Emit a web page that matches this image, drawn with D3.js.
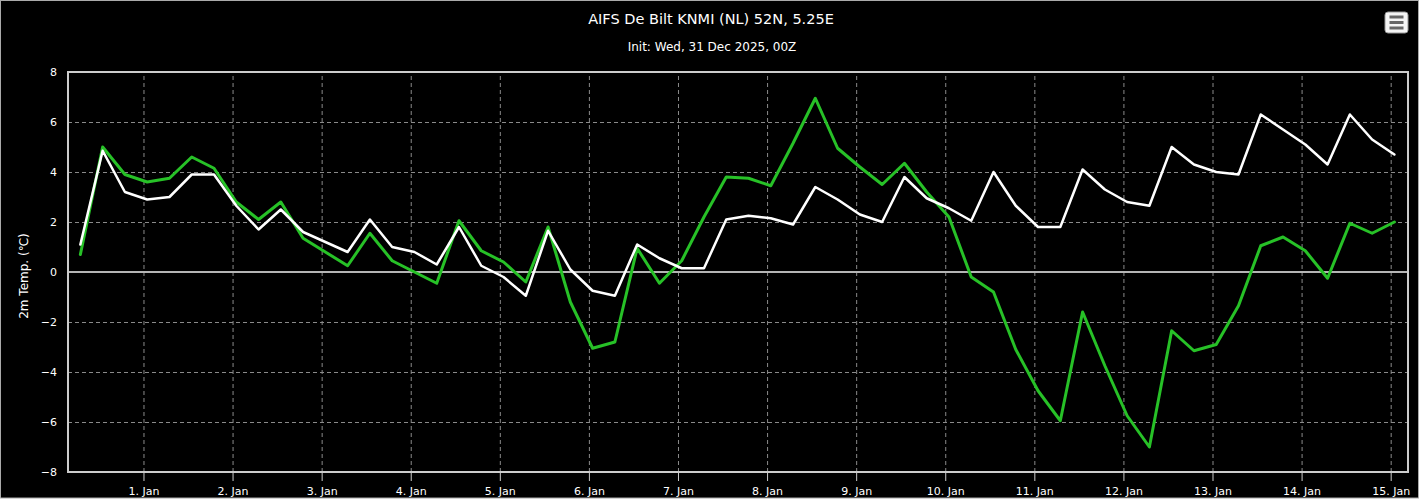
<!DOCTYPE html>
<html>
<head>
<meta charset="utf-8">
<title>AIFS De Bilt</title>
<script src="https://cdn.jsdelivr.net/npm/d3@7"></script>
<style>
  body { margin: 0; background: #fff; }
  svg { display: block; font-family: "DejaVu Sans", Verdana, sans-serif; }
</style>
</head>
<body>
<div id="chart"></div>
<script>
// run info, data is 6-hourly starting 31 Dec 06Z
var runStart = Date.UTC(2025, 11, 31, 6);
var stepHours = 6;

// white line (2m temp, first member)
var whiteTemps = [1.1, 4.85, 3.2, 2.9, 3.0, 3.9, 3.9, 2.65, 1.7, 2.5,
                  1.6, 1.2, 0.8, 2.1, 1.0, 0.8, 0.3, 1.8, 0.25, -0.2,
                  -0.95, 1.65, 0.1, -0.75, -0.95, 1.1, 0.55, 0.15, 0.15, 2.1,
                  2.25, 2.15, 1.9, 3.4, 2.9, 2.3, 2.0, 3.8, 2.95, 2.55,
                  2.05, 4.0, 2.65, 1.8, 1.8, 4.1, 3.3, 2.8, 2.65, 5.0,
                  4.3, 4.0, 3.9, 6.3, 5.7, 5.1, 4.3, 6.3, 5.3, 4.7];

// green line
var greenTemps = [0.7, 5.0, 3.9, 3.6, 3.75, 4.6, 4.15, 2.8, 2.1, 2.8,
                  1.35, 0.8, 0.25, 1.55, 0.45, 0.0, -0.45, 2.05, 0.85, 0.4,
                  -0.4, 1.8, -1.2, -3.05, -2.8, 0.95, -0.45, 0.45, 2.2, 3.8,
                  3.75, 3.45, 5.15, 6.95, 4.95, 4.2, 3.5, 4.35, 3.2, 2.2,
                  -0.2, -0.8, -3.1, -4.75, -5.95, -1.6, -3.75, -5.75, -7.0, -2.35,
                  -3.15, -2.9, -1.35, 1.05, 1.4, 0.85, -0.25, 1.95, 1.55, 2.0];

var dayTicks = [1, 2, 3, 4, 5, 6, 7, 8, 9, 10, 11, 12, 13, 14, 15];
var dayLabels = ["1. Jan", "2. Jan", "3. Jan", "4. Jan", "5. Jan", "6. Jan", "7. Jan", "8. Jan",
                 "9. Jan", "10. Jan", "11. Jan", "12. Jan", "13. Jan", "14. Jan", "15. Jan"];
var yTicks = [-8, -6, -4, -2, 0, 2, 4, 6, 8];

var titleText = "AIFS De Bilt KNMI (NL) 52N, 5.25E";
var subtitleText = "Init: Wed, 31 Dec 2025, 00Z";
var yTitle = "2m Temp. (\u2103)";

var W = 1422, H = 499;
var plot = {left: 68, top: 72, right: 1408, bottom: 472};

var svg = d3.select("#chart").append("svg")
    .attr("width", W).attr("height", H);

// chart box
svg.append("rect")
    .attr("x", 0.5).attr("y", 0.5)
    .attr("width", 1418).attr("height", 497.5)
    .attr("fill", "#000")
    .attr("stroke", "#aaa").attr("stroke-width", 1);

// ticks are at local midnight (CET), i.e. 23Z the day before
var tickTimes = dayTicks.map(function (d) { return new Date(Date.UTC(2026, 0, d, -1)); });
var labelOf = d3.scaleOrdinal().domain(tickTimes.map(Number)).range(dayLabels);

var points = function (arr) {
    return arr.map(function (v, i) {
        return {t: new Date(runStart + i * stepHours * 3600e3), v: v};
    });
};
var whiteData = points(whiteTemps);
var greenData = points(greenTemps);

var x = d3.scaleUtc()
    .domain([new Date(Date.UTC(2025, 11, 31, 2, 40)), new Date(Date.UTC(2026, 0, 15, 3, 40))])
    .range([plot.left, plot.right]);
var y = d3.scaleLinear().domain([-8, 8]).range([plot.bottom, plot.top]);

// grid (dashed)
var gx = svg.append("g")
    .attr("transform", "translate(0," + plot.bottom + ")")
    .call(d3.axisBottom(x).tickValues(tickTimes).tickSize(-(plot.bottom - plot.top)).tickFormat(""));
var gy = svg.append("g")
    .attr("transform", "translate(" + plot.left + ",0)")
    .call(d3.axisLeft(y).tickValues(yTicks).tickSize(-(plot.right - plot.left)).tickFormat(""));
[gx, gy].forEach(function (g) {
    g.select(".domain").remove();
    g.selectAll("line")
        .attr("stroke", "#8a8a8a")
        .attr("stroke-width", 1)
        .attr("stroke-dasharray", "4,3");
});

// zero line
svg.append("line")
    .attr("x1", plot.left).attr("x2", plot.right)
    .attr("y1", y(0)).attr("y2", y(0))
    .attr("stroke", "#b4b4b4").attr("stroke-width", 2);

// plot border
svg.append("rect")
    .attr("x", plot.left).attr("y", plot.top)
    .attr("width", plot.right - plot.left).attr("height", plot.bottom - plot.top)
    .attr("fill", "none")
    .attr("stroke", "#cccccc").attr("stroke-width", 2);

// x axis labels + small tick marks
var xAxis = svg.append("g")
    .attr("transform", "translate(0," + plot.bottom + ")")
    .call(d3.axisBottom(x).tickValues(tickTimes).tickSize(9).tickPadding(6)
        .tickFormat(function (d) { return labelOf(+d); }));
xAxis.select(".domain").remove();
xAxis.selectAll("line").attr("stroke", "#cccccc").attr("stroke-width", 1);
xAxis.selectAll("text")
    .attr("fill", "#fff")
    .style("font-size", "11px")
    .style("font-family", "DejaVu Sans, Verdana, sans-serif");

// y axis labels
var yAxis = svg.append("g")
    .attr("transform", "translate(" + (plot.left - 11) + ",0)")
    .call(d3.axisLeft(y).tickValues(yTicks).tickSize(0).tickPadding(0)
        .tickFormat(function (d) { return d < 0 ? "\u2212" + Math.abs(d) : d; }));
yAxis.select(".domain").remove();
yAxis.selectAll("text")
    .attr("fill", "#fff")
    .style("font-size", "11px")
    .style("font-family", "DejaVu Sans, Verdana, sans-serif");

svg.append("text")
    .attr("transform", "translate(28," + ((plot.top + plot.bottom) / 2 + 4) + ") rotate(-90)")
    .attr("text-anchor", "middle")
    .attr("fill", "#fff")
    .style("font-size", "12px")
    .text(yTitle);

// lines
var line = d3.line()
    .x(function (d) { return x(d.t); })
    .y(function (d) { return y(d.v); });

svg.append("path")
    .datum(greenData)
    .attr("d", line)
    .attr("fill", "none")
    .attr("stroke", "#27c127")
    .attr("stroke-width", 3)
    .attr("stroke-linejoin", "round")
    .attr("stroke-linecap", "round");

svg.append("path")
    .datum(whiteData)
    .attr("d", line)
    .attr("fill", "none")
    .attr("stroke", "#ffffff")
    .attr("stroke-width", 2.5)
    .attr("stroke-linejoin", "round")
    .attr("stroke-linecap", "round");

// titles
svg.append("text")
    .attr("x", 711).attr("y", 24)
    .attr("text-anchor", "middle")
    .attr("fill", "#fff")
    .style("font-size", "14.5px")
    .text(titleText);
svg.append("text")
    .attr("x", 712).attr("y", 51)
    .attr("text-anchor", "middle")
    .attr("fill", "#fff")
    .style("font-size", "12px")
    .text(subtitleText);

// menu button
var menu = svg.append("g").attr("transform", "translate(1385,12)");
menu.append("rect")
    .attr("width", 23).attr("height", 21).attr("rx", 3)
    .attr("fill", "#f4f4f4").attr("stroke", "#999").attr("stroke-width", 1);
[5, 10.5, 16].forEach(function (yy) {
    menu.append("line")
        .attr("x1", 4.5).attr("x2", 18.5)
        .attr("y1", yy).attr("y2", yy)
        .attr("stroke", "#666").attr("stroke-width", 3);
});
</script>
</body>
</html>
